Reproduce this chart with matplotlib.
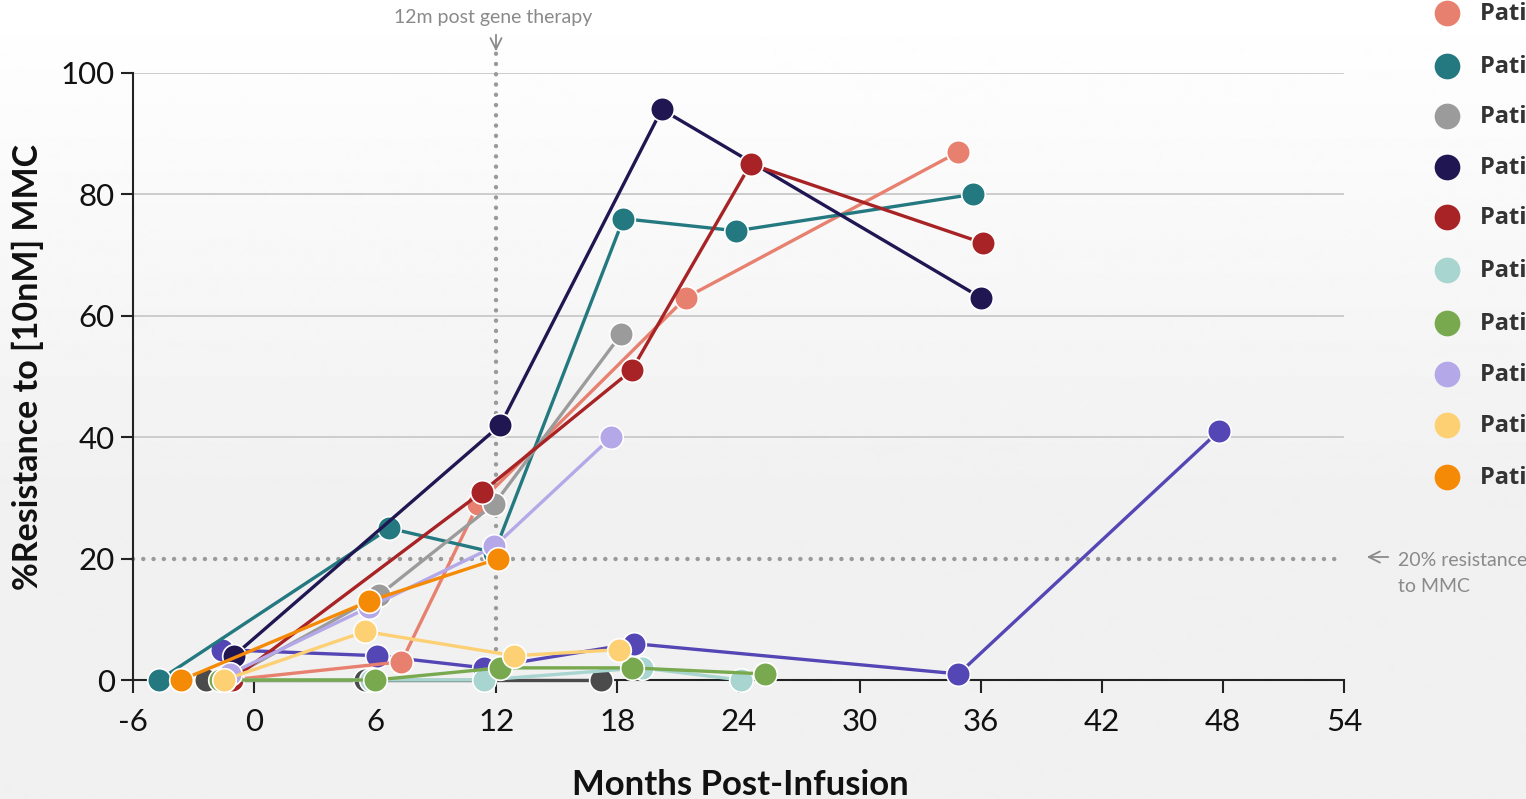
import numpy as np
import matplotlib
matplotlib.use("Agg")
import matplotlib.pyplot as plt
from matplotlib.lines import Line2D

plt.rcParams['font.family'] = ['Lato', 'DejaVu Sans']

# ---- data: months post-infusion and % resistance to 10nM MMC ----
patient_names = [f"Patient {i}" for i in range(1, 11)]
patient_colors = ["#E8806F", "#23797F", "#9B9B9B", "#201752", "#A82325",
                  "#A8D5CF", "#78A94F", "#B4A8E8", "#FDD074", "#F58A07"]

p1_x = [-1.2, 7.3, 11.1, 21.4, 34.9]
p1_y = [0, 3, 29, 63, 87]
p2_x = [-4.7, 6.7, 11.9, 18.3, 23.9, 35.6]
p2_y = [0, 25, 21, 76, 74, 80]
p3_x = [-1.4, 6.2, 11.9, 18.2]
p3_y = [0, 14, 29, 57]
p4_x = [-1.0, 12.2, 20.2, 36.0]
p4_y = [4, 42, 94, 63]
p5_x = [-1.1, 11.3, 18.7, 24.6, 36.1]
p5_y = [0, 31, 51, 85, 72]
p6_x = [-1.5, 5.8, 11.4, 19.2, 24.1]
p6_y = [0, 0, 0, 2, 0]
p7_x = [-1.7, 6.0, 12.2, 18.7, 25.3]
p7_y = [0, 0, 2, 2, 1]
p8_x = [-1.2, 5.7, 11.9, 17.7]
p8_y = [1, 12, 22, 40]
p9_x = [-1.5, 5.5, 12.9, 18.1]
p9_y = [0, 8, 4, 5]
p10_x = [-3.6, 5.7, 12.1]
p10_y = [0, 13, 20]

# two further patients shown without a legend entry
extra_colors = ["#4B4B4B", "#5546B5"]
pa_x = [-2.4, 5.5, 17.2]
pa_y = [0, 0, 0]
pb_x = [-1.6, 6.1, 11.4, 18.8, 34.9, 47.8]
pb_y = [5, 4, 2, 6, 1, 41]

patients_x = [p1_x, p2_x, p3_x, p4_x, p5_x, p6_x, p7_x, p8_x, p9_x, p10_x]
patients_y = [p1_y, p2_y, p3_y, p4_y, p5_y, p6_y, p7_y, p8_y, p9_y, p10_y]

x_ticks = [-6, 0, 6, 12, 18, 24, 30, 36, 42, 48, 54]
y_ticks = [0, 20, 40, 60, 80, 100]

W, H = 1526, 799
fig = plt.figure(figsize=(W / 100, H / 100), dpi=100)

# soft vertical background gradient
bg = fig.add_axes([0, 0, 1, 1], zorder=-10)
rows = np.linspace(0, 1, 400)
shade = 1.0 - 0.055 * np.clip(rows / 0.6, 0, 1)
bg.imshow(shade[:, None], cmap="gray", vmin=0, vmax=1, aspect="auto",
          extent=[0, 1, 1, 0])
bg.set_axis_off()

def fx(px):
    return px / W

def fy(py):
    return 1 - py / H

ax = fig.add_axes([fx(133), fy(680), (1344 - 133) / W, (680 - 73) / H])
ax.patch.set_alpha(0)
ax.set_xlim(-6, 54)
ax.set_ylim(0, 100)

for v in [40, 60, 80, 100]:
    ax.axhline(v, color="#c9c9c9", lw=1.3, zorder=1)

dot = (0, (0.01, 2.3))
ax.plot([-6, 54], [20, 20], color="#9a9a9a", lw=3.2, ls=dot,
        dash_capstyle="round", zorder=1.5, clip_on=False)
ax.plot([12, 12], [0, 104.6], color="#9a9a9a", lw=3.2, ls=dot,
        dash_capstyle="round", zorder=1.5, clip_on=False)

line_kw = dict(lw=2.4, marker="o", markersize=17, markeredgecolor="white",
               markeredgewidth=1.2, clip_on=False)

for xs, ys, c in [(pa_x, pa_y, extra_colors[0]), (pb_x, pb_y, extra_colors[1])]:
    ax.plot(xs, ys, color=c, zorder=3, **line_kw)
for i, (xs, ys) in enumerate(zip(patients_x, patients_y)):
    ax.plot(xs, ys, color=patient_colors[i], zorder=4 + i * 0.1, **line_kw)

for s in ["top", "right"]:
    ax.spines[s].set_visible(False)
for s in ["left", "bottom"]:
    ax.spines[s].set_color("#222222")
    ax.spines[s].set_linewidth(1.5)
    ax.spines[s].set_zorder(2)

ax.set_xticks(x_ticks)
ax.set_xticklabels([str(t) for t in x_ticks])
ax.set_yticks(y_ticks)
ax.tick_params(axis="both", direction="out", length=9, width=1.5,
               color="#222222", labelsize=22.5, labelcolor="#111111")
ax.tick_params(axis="x", pad=11)
ax.tick_params(axis="y", pad=4)

fig.text(fx(740), fy(785), "Months Post-Infusion", fontsize=25,
         fontweight="bold", ha="center", va="center", color="#111111")
fig.text(fx(28), fy(367), "%Resistance to [10nM] MMC", fontsize=24.5,
         fontweight="bold", ha="center", va="center", rotation=90,
         color="#111111")

# annotations
fig.text(fx(493), fy(18), "12m post gene therapy", fontsize=14,
         ha="center", va="center", color="#8a8a8a")
ax.annotate("", xy=(fx(496), fy(54)), xytext=(fx(496), fy(32)),
            xycoords="figure fraction", textcoords="figure fraction",
            arrowprops=dict(arrowstyle="->", color="#8a8a8a", lw=1.3,
                            mutation_scale=20))
ax.annotate("", xy=(fx(1364), fy(557)), xytext=(fx(1391), fy(557)),
            xycoords="figure fraction", textcoords="figure fraction",
            arrowprops=dict(arrowstyle="->", color="#8a8a8a", lw=1.3,
                            mutation_scale=20))
fig.text(fx(1398), fy(561), "20% resistance", fontsize=14,
         ha="left", va="center", color="#8a8a8a")
fig.text(fx(1398), fy(587), "to MMC", fontsize=14,
         ha="left", va="center", color="#8a8a8a")

# legend column on the right edge
legend_y = [13, 66, 116, 167, 217, 270, 323, 374, 425, 477]
for name, c, ly in zip(patient_names, patient_colors, legend_y):
    fig.add_artist(Line2D([fx(1447)], [fy(ly)], transform=fig.transFigure,
                          marker="o", markersize=18.5, color=c,
                          markeredgecolor="none", linestyle="none"))
    fig.text(fx(1480), fy(ly + 1), name, fontsize=17, fontweight="bold",
             family=["Open Sans", "DejaVu Sans"],
             ha="left", va="center", color="#333333")

fig.savefig("out.png", dpi=100)
